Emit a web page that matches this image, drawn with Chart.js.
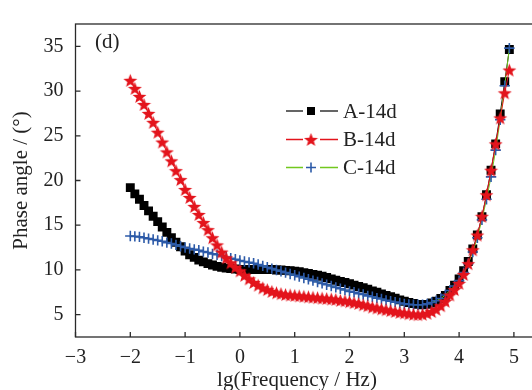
<!DOCTYPE html>
<html><head><meta charset="utf-8">
<script src="https://cdn.jsdelivr.net/npm/chart.js@4.4.1/dist/chart.umd.min.js"></script>
<style>html,body{margin:0;padding:0;background:#fff;overflow:hidden}#wrap{width:560px;height:390px}</style>
</head><body><div id="wrap"><canvas id="c" width="560" height="390"></canvas></div>
<script>
const lgFreq = [-2, -1.917, -1.833, -1.75, -1.667, -1.583, -1.5, -1.417, -1.333, -1.25, -1.167, -1.083,
  -1, -0.917, -0.833, -0.75, -0.667, -0.583, -0.5, -0.417, -0.333, -0.25, -0.167, -0.083,
  0, 0.083, 0.167, 0.25, 0.333, 0.417, 0.5, 0.583, 0.667, 0.75, 0.833, 0.917,
  1, 1.083, 1.167, 1.25, 1.333, 1.417, 1.5, 1.583, 1.667, 1.75, 1.833, 1.917,
  2, 2.083, 2.167, 2.25, 2.333, 2.417, 2.5, 2.583, 2.667, 2.75, 2.833, 2.917,
  3, 3.083, 3.167, 3.25, 3.333, 3.417, 3.5, 3.583, 3.667, 3.75, 3.833, 3.917,
  4, 4.083, 4.167, 4.25, 4.333, 4.417, 4.5, 4.583, 4.667, 4.75, 4.833, 4.917];
const seriesA = [19.2, 18.5, 17.9, 17.2, 16.6, 16.0, 15.4, 14.8, 14.2, 13.6, 13.1, 12.6,
  12.1, 11.7, 11.4, 11.1, 10.9, 10.7, 10.55, 10.4, 10.3, 10.2, 10.15, 10.1,
  10.05, 10.05, 10.05, 10.05, 10.05, 10.05, 10.05, 10.05, 10.0, 10.0, 9.95, 9.9,
  9.85, 9.8, 9.7, 9.6, 9.5, 9.4, 9.3, 9.15, 9.0, 8.85, 8.7, 8.6,
  8.45, 8.3, 8.15, 8.0, 7.85, 7.65, 7.5, 7.3, 7.15, 7.0, 6.85, 6.65,
  6.5, 6.35, 6.25, 6.15, 6.1, 6.15, 6.3, 6.5, 6.8, 7.15, 7.7, 8.3,
  9.0, 9.9, 10.95, 12.35, 13.9, 15.95, 18.4, 21.15, 24.1, 27.45, 31.05, 34.65];
const seriesB = [31.2, 30.3, 29.4, 28.5, 27.5, 26.5, 25.4, 24.3, 23.2, 22.2, 21.1, 20.1,
  19.0, 18.1, 17.1, 16.2, 15.3, 14.5, 13.6, 12.8, 12.0, 11.35, 10.8, 10.3,
  9.9, 9.4, 9.0, 8.6, 8.3, 8.0, 7.8, 7.6, 7.45, 7.35, 7.25, 7.2,
  7.15, 7.1, 7.05, 7.0, 6.95, 6.9, 6.85, 6.8, 6.75, 6.7, 6.6, 6.55,
  6.45, 6.35, 6.25, 6.1, 6.0, 5.85, 5.75, 5.65, 5.55, 5.45, 5.35, 5.25,
  5.2, 5.1, 5.05, 5.0, 5.05, 5.15, 5.35, 5.6, 6.0, 6.5, 7.2, 7.8,
  8.5, 9.5, 10.7, 12.25, 13.9, 16.0, 18.4, 21.15, 24.1, 27.0, 29.8, 32.35];
const seriesC = [13.8, 13.75, 13.7, 13.6, 13.5, 13.4, 13.3, 13.2, 13.05, 12.95, 12.8, 12.65,
  12.5, 12.4, 12.3, 12.2, 12.05, 11.95, 11.8, 11.7, 11.55, 11.45, 11.3, 11.2,
  11.05, 10.95, 10.85, 10.75, 10.6, 10.45, 10.3, 10.15, 10.0, 9.85, 9.7, 9.55,
  9.4, 9.25, 9.1, 8.95, 8.8, 8.65, 8.5, 8.35, 8.2, 8.05, 7.9, 7.75,
  7.6, 7.5, 7.35, 7.25, 7.1, 7.0, 6.85, 6.75, 6.6, 6.5, 6.4, 6.3,
  6.2, 6.15, 6.1, 6.1, 6.1, 6.2, 6.35, 6.55, 6.8, 7.2, 7.7, 8.2,
  8.8, 9.7, 10.7, 12.0, 13.6, 15.6, 17.9, 20.4, 23.4, 26.8, 30.6, 34.8];
const seriesNames = ['A-14d', 'B-14d', 'C-14d'];
const xTicks = [-3, -2, -1, 0, 1, 2, 3, 4, 5];
const yTicks = [5, 10, 15, 20, 25, 30, 35];
const panelLabel = '(d)';
const xTitle = 'lg(Frequency / Hz)';
const yTitle = 'Phase angle / (°)';

const FONT = "'Liberation Serif', 'Times New Roman', serif";
const RED = '#e3141c', BLUE = '#2c5aa8', GREEN = '#72c81e', TXT = '#222';

function starCanvas(size, color) {
  const c = document.createElement('canvas');
  c.width = size; c.height = size;
  const g = c.getContext('2d');
  const cx = size / 2, cy = size / 2 + 0.7, R = size / 2 - 0.2, r = R * 0.42;
  g.beginPath();
  for (let i = 0; i < 10; i++) {
    const rad = i % 2 ? r : R;
    const a = -Math.PI / 2 + i * Math.PI / 5;
    const px = cx + rad * Math.cos(a), py = cy + rad * Math.sin(a);
    i ? g.lineTo(px, py) : g.moveTo(px, py);
  }
  g.closePath();
  g.fillStyle = color; g.fill();
  return c;
}
const star = starCanvas(15, RED);

const pts = arr => lgFreq.map((x, i) => ({x, y: arr[i]}));
const fmt = v => (v < 0 ? '\u2212' + Math.abs(v) : String(v));

const decor = {
  id: 'decor',
  beforeDatasetsDraw(chart) {
    const {ctx, chartArea: a, scales: {x, y}} = chart;
    ctx.save();
    ctx.strokeStyle = '#2a2a2a'; ctx.lineWidth = 1.3;
    ctx.strokeRect(a.left, a.top, a.right - a.left, a.bottom - a.top);
    ctx.beginPath();
    xTicks.forEach(v => { const p = x.getPixelForValue(v); ctx.moveTo(p, a.bottom); ctx.lineTo(p, a.bottom - 5); });
    yTicks.forEach(v => { const p = y.getPixelForValue(v); ctx.moveTo(a.left, p); ctx.lineTo(a.left + 5, p); });
    ctx.stroke();
    ctx.restore();
  },
  afterDraw(chart) {
    const {ctx} = chart;
    ctx.save();
    ctx.font = '21px ' + FONT; ctx.fillStyle = TXT;
    ctx.textAlign = 'center'; ctx.textBaseline = 'alphabetic';
    ctx.fillText(xTitle, 297, 386);
    ctx.textAlign = 'left'; ctx.textBaseline = 'middle';
    ctx.fillText(panelLabel, 95, 42);
    const rows = [111, 139.5, 167.5];
    const lineCols = ['#333', RED, GREEN];
    rows.forEach((ry, i) => {
      ctx.strokeStyle = lineCols[i]; ctx.lineWidth = 1.3;
      ctx.beginPath();
      ctx.moveTo(286, ry); ctx.lineTo(303, ry);
      ctx.moveTo(320, ry); ctx.lineTo(338, ry);
      ctx.stroke();
      if (i === 0) { ctx.fillStyle = '#000'; ctx.fillRect(307, ry - 4, 8, 8); }
      else if (i === 1) { ctx.drawImage(star, 311 - 7.5, ry - 7.5); }
      else {
        ctx.strokeStyle = BLUE; ctx.lineWidth = 1.6;
        ctx.beginPath(); ctx.moveTo(306, ry); ctx.lineTo(316, ry); ctx.moveTo(311, ry - 5); ctx.lineTo(311, ry + 5); ctx.stroke();
      }
      ctx.fillStyle = TXT;
      ctx.fillText(seriesNames[i], 343, ry + 1);
    });
    ctx.restore();
  }
};

new Chart(document.getElementById('c'), {
  type: 'line',
  data: {
    datasets: [
      {label: seriesNames[1], data: pts(seriesB), order: 0, borderColor: RED, borderWidth: 1,
       pointStyle: star, pointRadius: 7.5, backgroundColor: RED},
      {label: seriesNames[2], data: pts(seriesC), order: 1, borderColor: GREEN, borderWidth: 1,
       pointStyle: 'cross', pointRadius: 5.2, pointBorderColor: BLUE, pointBorderWidth: 1.6},
      {label: seriesNames[0], data: pts(seriesA), order: 2, borderColor: '#000', borderWidth: 1,
       pointStyle: 'rect', pointRadius: 6.3, pointBackgroundColor: '#000', pointBorderColor: '#000', pointBorderWidth: 0}
    ]
  },
  options: {
    responsive: false, animation: false, devicePixelRatio: 1,
    layout: {padding: {top: 15, right: 18.7, left: 0, bottom: 0}},
    plugins: {legend: {display: false}, tooltip: {enabled: false}},
    elements: {line: {tension: 0}},
    scales: {
      x: {
        type: 'linear', min: -3, max: 5.5,
        afterBuildTicks: s => { s.ticks = xTicks.map(v => ({value: v})); },
        afterFit: s => { s.height = 53; },
        grid: {display: false, drawTicks: false}, border: {display: false},
        ticks: {color: TXT, font: {family: FONT, size: 20}, padding: 9, maxRotation: 0, autoSkip: false,
                callback: v => fmt(v)},
        title: {display: false}
      },
      y: {
        type: 'linear', min: 2.5, max: 37.5,
        afterBuildTicks: s => { s.ticks = yTicks.map(v => ({value: v})); },
        afterFit: s => { s.width = 75.5; },
        grid: {display: false, drawTicks: false}, border: {display: false},
        ticks: {color: TXT, font: {family: FONT, size: 20}, padding: 12, autoSkip: false,
                callback: v => fmt(v)},
        title: {display: true, text: yTitle, color: TXT, font: {family: FONT, size: 21, lineHeight: 1},
                padding: {top: 11, bottom: 0}}
      }
    }
  },
  plugins: [decor]
});
</script>
</body></html>
